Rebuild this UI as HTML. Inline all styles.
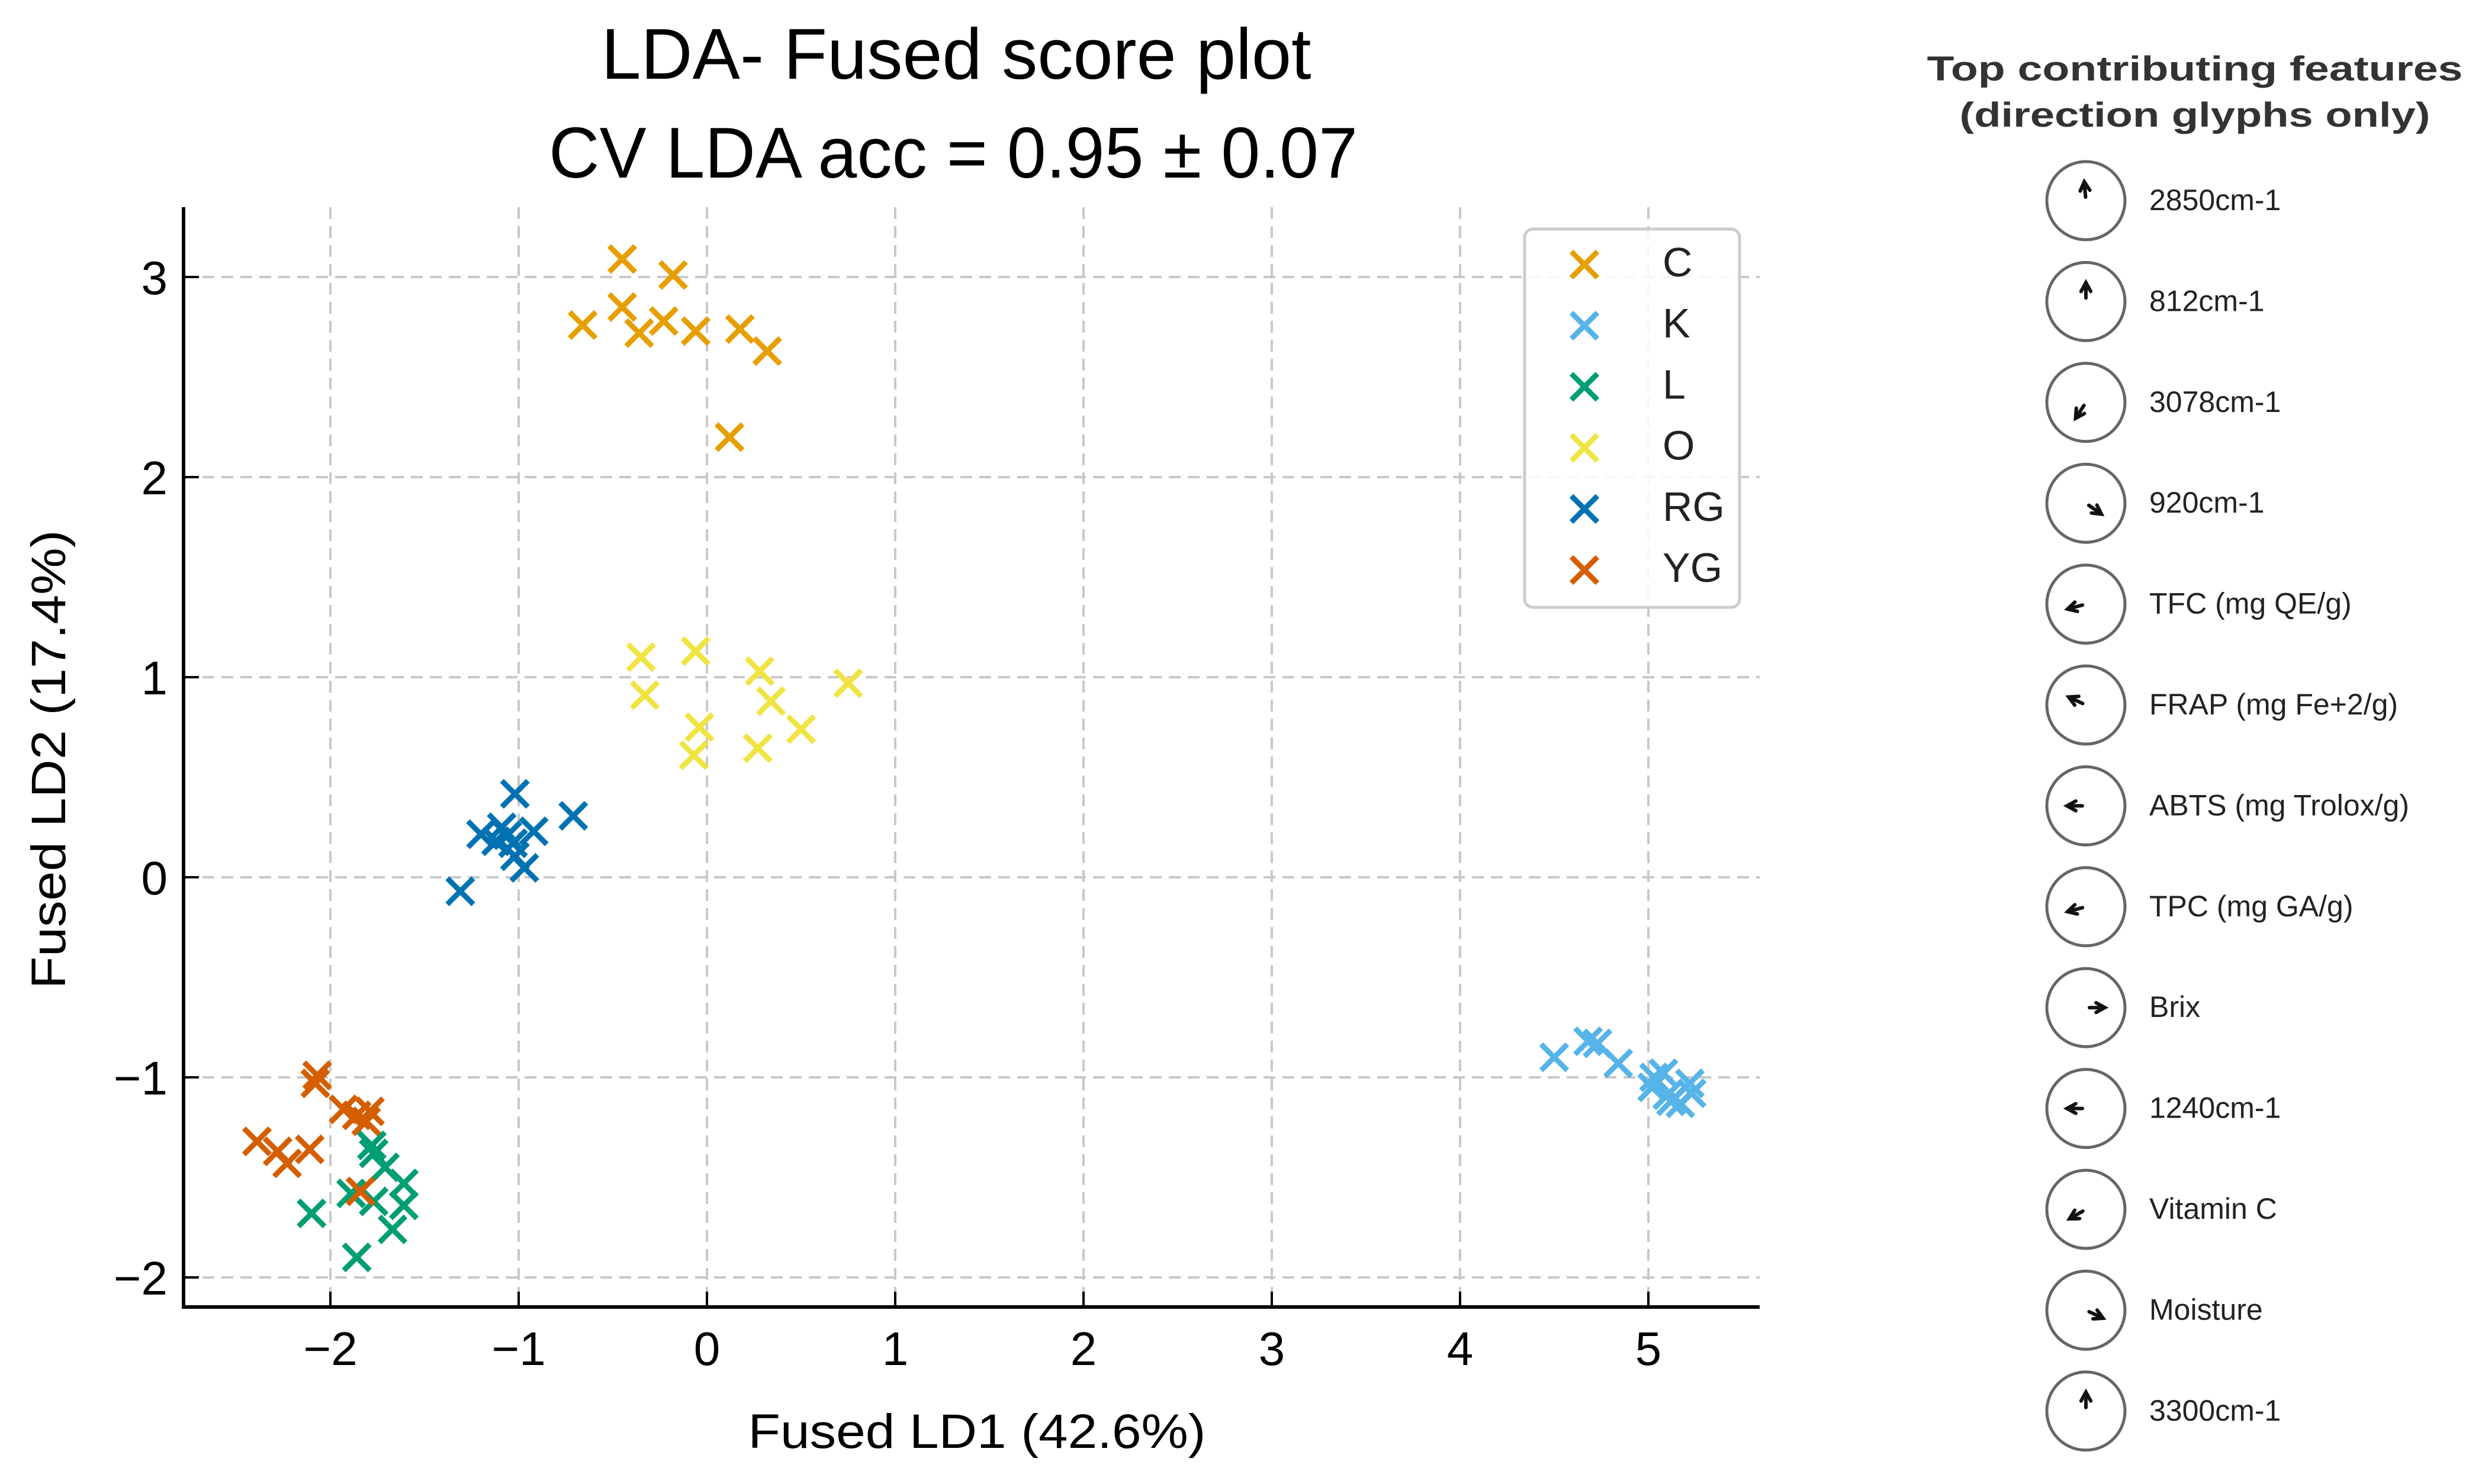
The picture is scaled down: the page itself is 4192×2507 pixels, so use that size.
<!DOCTYPE html>
<html><head><meta charset="utf-8"><style>
html,body{margin:0;padding:0;background:#fff;}
svg{display:block;font-family:"Liberation Sans","DejaVu Sans",sans-serif;}
</style></head><body>
<svg id="chart" width="4192" height="2507" viewBox="0 0 4192 2507" xmlns="http://www.w3.org/2000/svg">
<rect width="4192" height="2507" fill="#fff"/>
<text x="1615" y="133" font-size="122" text-anchor="middle" textLength="1199" lengthAdjust="spacingAndGlyphs" fill="#000">LDA- Fused score plot</text>
<text x="1610" y="300" font-size="122" text-anchor="middle" textLength="1366" lengthAdjust="spacingAndGlyphs" fill="#000">CV LDA acc = 0.95 ± 0.07</text>
<g id="grid"></g>
<g id="marks"></g>
<g id="axes"></g>
<text x="1650" y="2446" font-size="82" text-anchor="middle" textLength="773" lengthAdjust="spacingAndGlyphs" fill="#000">Fused LD1 (42.6%)</text>
<text transform="translate(110,1283) rotate(-90)" font-size="82" text-anchor="middle" textLength="775" lengthAdjust="spacingAndGlyphs" fill="#000">Fused LD2 (17.4%)</text>
<g id="legend"></g>
<g id="features">
<text x="3707" y="136" font-size="58" font-weight="bold" text-anchor="middle" fill="#333" textLength="905" lengthAdjust="spacingAndGlyphs">Top contributing features</text>
<text x="3707" y="214" font-size="58" font-weight="bold" text-anchor="middle" fill="#333" textLength="795" lengthAdjust="spacingAndGlyphs">(direction glyphs only)</text>
</g>
</svg>
<script>
const NS="http://www.w3.org/2000/svg";
const classNames=["C","K","L","O","RG","YG"];
const classColors=["#E69F00","#56B4E9","#009E73","#F0E442","#0072B2","#D55E00"];
const cX=[-0.45,-0.18,-0.45,-0.66,-0.36,-0.23,-0.06,0.175,0.32,0.12];
const cY=[3.09,3.01,2.85,2.76,2.72,2.78,2.73,2.74,2.63,2.20];
const kX=[4.50,4.68,4.73,4.84,5.03,5.08,5.02,5.10,5.22,5.23,5.12,5.17];
const kY=[-0.90,-0.82,-0.83,-0.93,-1.00,-0.98,-1.05,-1.09,-1.03,-1.08,-1.12,-1.13];
const lX=[-1.78,-1.77,-1.71,-1.61,-1.61,-1.89,-1.77,-2.10,-1.67,-1.86];
const lY=[-1.34,-1.38,-1.45,-1.53,-1.64,-1.58,-1.62,-1.68,-1.76,-1.90];
const oX=[-0.35,-0.06,-0.33,0.28,0.75,0.34,-0.04,0.50,-0.07,0.27];
const oY=[1.10,1.13,0.91,1.03,0.97,0.88,0.75,0.74,0.61,0.645];
const rgX=[-1.02,-0.71,-1.20,-1.09,-0.92,-1.12,-1.03,-1.02,-0.97,-1.31,-1.06];
const rgY=[0.417,0.307,0.215,0.25,0.23,0.18,0.17,0.105,0.047,-0.07,0.21];
const ygX=[-2.07,-2.08,-1.93,-1.86,-1.79,-1.81,-2.39,-2.28,-2.23,-2.11,-1.84];
const ygY=[-0.99,-1.03,-1.16,-1.19,-1.17,-1.22,-1.32,-1.37,-1.43,-1.36,-1.57];
const xTicks=[-2,-1,0,1,2,3,4,5];
const yTicks=[-2,-1,0,1,2,3];
const featureNames=["2850cm-1","812cm-1","3078cm-1","920cm-1","TFC (mg QE/g)","FRAP (mg Fe+2/g)","ABTS (mg Trolox/g)","TPC (mg GA/g)","Brix","1240cm-1","Vitamin C","Moisture","3300cm-1"];
const featureAngles=[95,90,237,325,195,155,180,195,0,180,210,335,90];

const L=310,R=2972,T=350,B=2208;
function sx(v){return 1194+v*318;}
function sy(v){return 1482-v*338;}
function mk(tag,attrs,parent){const e=document.createElementNS(NS,tag);for(const k in attrs)e.setAttribute(k,attrs[k]);parent.appendChild(e);return e;}
const grid=document.getElementById('grid'),axes=document.getElementById('axes'),marks=document.getElementById('marks');
xTicks.forEach(t=>{
  const g=mk('line',{x1:sx(t),x2:sx(t),y1:T,y2:B,stroke:'#c8c8c8','stroke-width':4,'stroke-dasharray':'20 12'},grid);
  
  
  const tk=mk('line',{x1:sx(t),x2:sx(t),y1:B,y2:B-26,stroke:'#000','stroke-width':4},axes);
  
  
  const lb=mk('text',{x:sx(t),y:2306,'font-size':80,'text-anchor':'middle',fill:'#000'},axes);
  lb.textContent=(t<0?'\u2212':'')+Math.abs(t);
  
  
});
yTicks.forEach(t=>{
  const g=mk('line',{x1:L,x2:R,y1:sy(t),y2:sy(t),stroke:'#c8c8c8','stroke-width':4,'stroke-dasharray':'20 12'},grid);
  
  
  const tk=mk('line',{x1:L,x2:L+26,y1:sy(t),y2:sy(t),stroke:'#000','stroke-width':4},axes);
  
  
  const lb=mk('text',{x:283,y:sy(t)+29,'font-size':80,'text-anchor':'end',fill:'#000'},axes);
  lb.textContent=(t<0?'\u2212':'')+Math.abs(t);
  
  
});
const sp1=mk('line',{x1:L,x2:L,y1:T,y2:B+3,stroke:'#000','stroke-width':6},axes);


const sp2=mk('line',{x1:L-3,x2:R,y1:B,y2:B,stroke:'#000','stroke-width':6},axes);



function cross(cx,cy,color,parent,s){
  const g=mk('g',{},parent);
  mk('path',{d:`M${cx-s},${cy-s}L${cx+s},${cy+s}M${cx-s},${cy+s}L${cx+s},${cy-s}`,stroke:color,'stroke-width':9,'stroke-linecap':'butt',fill:'none'},g);
  return g;
}
const seriesX=[cX,kX,lX,oX,rgX,ygX], seriesY=[cY,kY,lY,oY,rgY,ygY];
seriesX.forEach((xs,i)=>{
  xs.forEach((x,j)=>{
    const p=cross(sx(x),sy(seriesY[i][j]),classColors[i],marks,22);
    
    
  });
});

const leg=document.getElementById('legend');
const lb=mk('rect',{x:2575,y:387,width:363,height:639,rx:14,fill:'#fff','fill-opacity':0.85,stroke:'#cccccc','stroke-width':5},leg);


classNames.forEach((n,i)=>{
  const y=447+i*103.2;
  const e=mk('g',{},leg);
  
  
  cross(2676,y,classColors[i],e,22);
  const t=mk('text',{x:2808,y:y+20,'font-size':70,fill:'#222'},e);
  t.textContent=n;
});

const feat=document.getElementById('features');
featureNames.forEach((n,i)=>{
  const cy=339+i*170.4, cx=3523;
  const g=mk('g',{},feat);
  
  
  mk('circle',{cx:cx,cy:cy,r:66,fill:'none',stroke:'#666','stroke-width':5},g);
  const a=featureAngles[i]*Math.PI/180;
  const dx=Math.cos(a),dy=-Math.sin(a);
  const hx=cx+dx*32,hy=cy+dy*32,tx=cx+dx*6,ty=cy+dy*6;
  const bx=-dx,by=-dy,c=Math.cos(0.5),s=Math.sin(0.5);
  const l1x=hx+(bx*c-by*s)*17,l1y=hy+(bx*s+by*c)*17,l2x=hx+(bx*c+by*s)*17,l2y=hy+(-bx*s+by*c)*17;
  mk('path',{d:`M${tx},${ty}L${hx},${hy}M${l1x},${l1y}L${hx},${hy}L${l2x},${l2y}`,stroke:'#111','stroke-width':6,fill:'none','stroke-linecap':'round'},g);
  const t=mk('text',{x:3630,y:cy+16,'font-size':50,fill:'#222'},g);
  t.textContent=n;
});
</script>
</body></html>
